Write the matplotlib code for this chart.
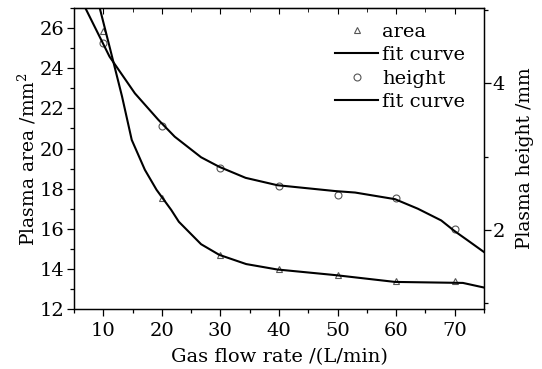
import numpy as np
import matplotlib
matplotlib.use('Agg')
import matplotlib.pyplot as plt
from matplotlib.ticker import MultipleLocator

#==================
# Measured points
flow = [10, 20, 30, 40, 50, 60, 70]
area = [25.84, 17.55, 14.7, 14.0, 13.7, 13.4, 13.4]
height = [4.55, 3.41, 2.85, 2.60, 2.47, 2.43, 2.02]

#==============================
# Fit curves
areaFitX = [9.4, 11.2, 13.2, 14.86, 17.1, 19.1, 21.6, 22.9, 26.7, 29.8, 34.4, 39.7, 49.6, 59.8, 71.4, 75]
areaFitY = [27.0, 24.93, 22.6, 20.43, 18.94, 17.94, 16.94, 16.35, 15.23, 14.7, 14.24, 13.97, 13.69, 13.35, 13.3, 13.07]
heightFitX = [6.95, 11.07, 15.4, 19.4, 22.2, 26.7, 29.8, 34.3, 39.7, 49.6, 53.0, 59.8, 63.7, 67.7, 69.9, 72.2, 75]
heightFitY = [5.02, 4.36, 3.86, 3.50, 3.27, 2.99, 2.86, 2.71, 2.61, 2.53, 2.51, 2.42, 2.29, 2.13, 1.99, 1.86, 1.70]

plt.rcParams['font.family'] = ['DejaVu Serif']
plt.rcParams['mathtext.fontset'] = 'dejavuserif'
plt.rcParams['font.size'] = 14

fig = plt.figure(figsize=(5.42, 3.69), dpi=100)
ax = fig.add_axes([0.1365, 0.1626, 0.7565, 0.8154])
ax2 = ax.twinx()

#===========================
# Left axis: plasma area
h1, = ax.plot(flow, area, linestyle='none', marker='^', markersize=5,
              markerfacecolor='none', markeredgecolor='#555555', markeredgewidth=0.8, label='area')
h2, = ax.plot(areaFitX, areaFitY, color='black', lw=1.5, label='fit curve')
ax.set_xlim(5, 75)
ax.set_ylim(12, 27)
ax.xaxis.set_major_locator(MultipleLocator(10))
ax.xaxis.set_minor_locator(MultipleLocator(5))
ax.yaxis.set_major_locator(MultipleLocator(2))
ax.yaxis.set_minor_locator(MultipleLocator(1))
ax.tick_params(which='major', direction='out', length=5, width=0.9, pad=2)
ax.tick_params(axis='x', which='major', pad=4)
ax.tick_params(which='minor', direction='out', length=3, width=0.9)
ax.set_xlabel('Gas flow rate /(L/min)', labelpad=6)
ax.set_ylabel('Plasma area /mm$^2$', labelpad=1, fontsize=13.5)

# top spine ticks pointing inward
top = ax.secondary_xaxis('top')
top.xaxis.set_major_locator(MultipleLocator(10))
top.xaxis.set_minor_locator(MultipleLocator(5))
top.tick_params(which='major', direction='in', length=4, labeltop=False)
top.tick_params(which='minor', direction='in', length=3)

#===========================
# Right axis: plasma height
h3, = ax2.plot(flow, height, linestyle='none', marker='o', markersize=5,
               markerfacecolor='none', markeredgecolor='#555555', markeredgewidth=0.8, label='height')
h4, = ax2.plot(heightFitX, heightFitY, color='black', lw=1.5, label='fit curve')
ax2.set_ylim(0.925, 5.02)
ax2.yaxis.set_major_locator(MultipleLocator(2))
ax2.yaxis.set_minor_locator(MultipleLocator(1))
ax2.tick_params(which='major', direction='out', length=5, width=0.9, pad=1)
ax2.tick_params(which='minor', direction='out', length=3, width=0.9)
ax2.set_ylabel('Plasma height /mm', labelpad=8, fontsize=13.5)

for a in (ax, ax2):
	for s in a.spines.values():
		s.set_linewidth(0.9)

ax2.legend([h1, h2, h3, h4], ['area', 'fit curve', 'height', 'fit curve'],
           loc='upper right', bbox_to_anchor=(0.982, 0.99), frameon=False,
           handlelength=2.2, handletextpad=0.2, labelspacing=0.28, borderaxespad=0.2)

fig.savefig('out.png', dpi=100)
